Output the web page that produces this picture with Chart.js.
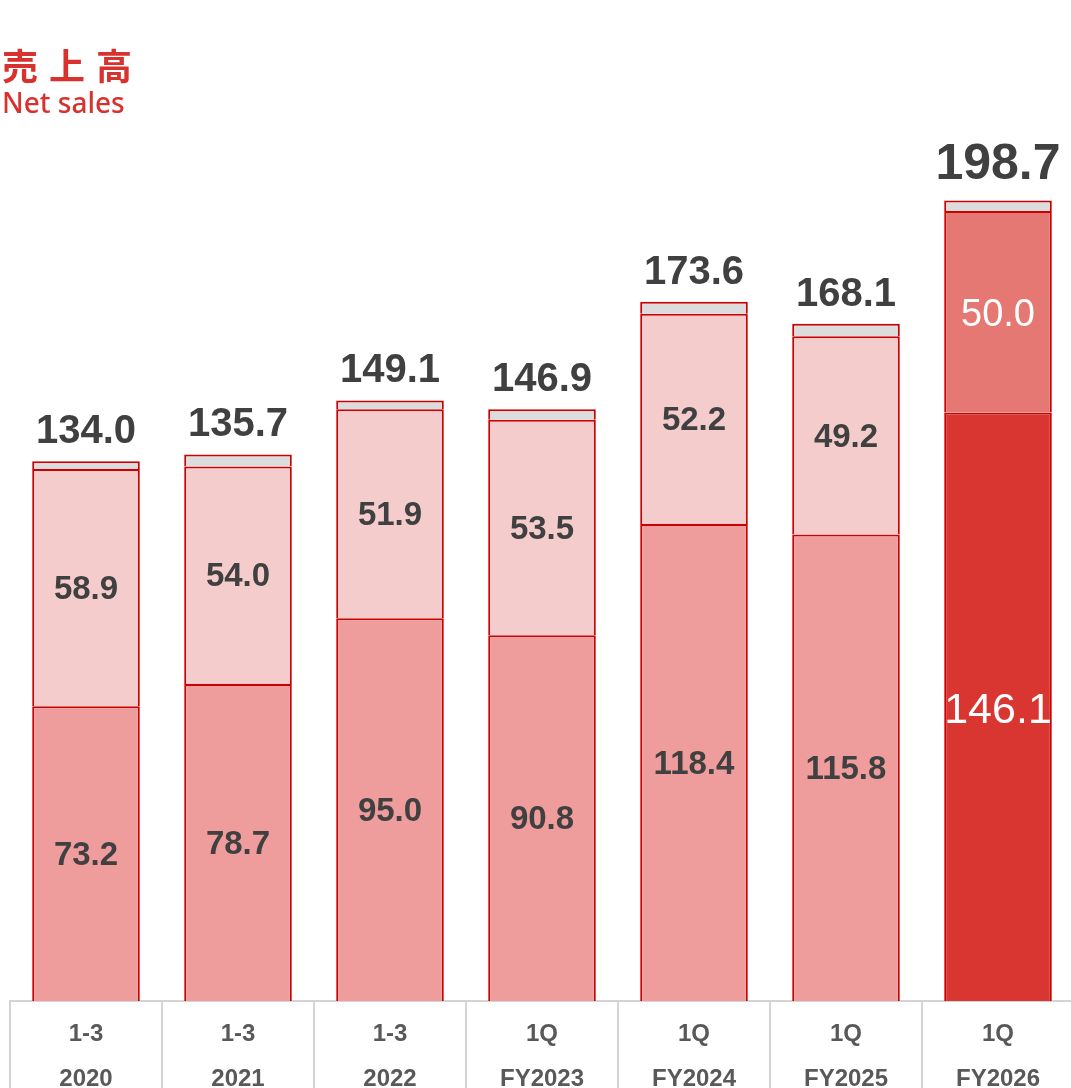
<!DOCTYPE html>
<html>
<head>
<meta charset="utf-8">
<script src="https://cdn.jsdelivr.net/npm/chart.js@4"></script>
<style>
  html, body { margin: 0; padding: 0; background: #fff; overflow: hidden; }
  #wrap { position: relative; width: 1080px; height: 1112px; }
  #title-jp {
    position: absolute; left: 2px; top: 46px;
    font-family: "Noto Sans CJK JP", sans-serif; font-weight: 700;
    font-size: 36px; letter-spacing: 11px; color: #d8322e; line-height: 1;
  }
  #title-en {
    position: absolute; left: 2px; top: 88px;
    font-family: "Noto Sans", sans-serif; font-size: 28px; font-weight: 500;
    color: #d8322e; line-height: 1;
  }
</style>
</head>
<body>
<div id="wrap">
  <canvas id="chart" width="1080" height="1112"></canvas>
  <div id="title-jp">売上高</div>
  <div id="title-en">Net sales</div>
</div>
<script>
const periods = [["1-3", "2020"], ["1-3", "2021"], ["1-3", "2022"], ["1Q", "FY2023"], ["1Q", "FY2024"], ["1Q", "FY2025"], ["1Q", "FY2026"]];
const bottomValues = [73.2, 78.7, 95.0, 90.8, 118.4, 115.8, 146.1];
const middleValues = [58.9, 54.0, 51.9, 53.5, 52.2, 49.2, 50.0];
const totals = [134.0, 135.7, 149.1, 146.9, 173.6, 168.1, 198.7];
// small remainder on top of each bar (grey cap)
const otherValues = totals.map((t, i) => +(t - bottomValues[i] - middleValues[i]).toFixed(1));

const lastIdx = periods.length - 1;
const bottomColors = periods.map((p, i) => i === lastIdx ? "#d93531" : "#ee9c9c");
const middleColors = periods.map((p, i) => i === lastIdx ? "#e67874" : "#f5cccc");
const edge = { top: 2, left: 2, right: 2, bottom: 0 };

// vertical separators below the baseline, between categories
const separatorPlugin = {
  id: "separators",
  afterDraw(chart) {
    const x = chart.scales.x;
    const ctx = chart.ctx;
    const n = chart.data.labels.length;
    const step = x.getPixelForValue(1) - x.getPixelForValue(0);
    ctx.save();
    ctx.strokeStyle = "#d4d4d4";
    ctx.lineWidth = 2;
    for (let i = 0; i <= n; i++) {
      const px = i < n ? x.getPixelForValue(i) - step / 2 : x.getPixelForValue(n - 1) + step / 2;
      ctx.beginPath();
      ctx.moveTo(px, chart.chartArea.bottom);
      ctx.lineTo(px, chart.height);
      ctx.stroke();
    }
    ctx.restore();
  }
};

const labelPlugin = {
  id: "barLabels",
  afterDatasetsDraw(chart) {
    const ctx = chart.ctx;
    ctx.save();
    ctx.textAlign = "center";
    ctx.textBaseline = "middle";
    [0, 1].forEach((di) => {
      const meta = chart.getDatasetMeta(di);
      const vals = chart.data.datasets[di].data;
      meta.data.forEach((bar, i) => {
        const cy = (bar.y + bar.base) / 2;
        if (i === lastIdx) {
          ctx.fillStyle = "#ffffff";
          ctx.font = (di === 0 ? "43px" : "38px") + " 'Liberation Sans', Arial, sans-serif";
          ctx.fillText(vals[i].toFixed(1), bar.x, cy + 4);
        } else {
          ctx.fillStyle = "#404040";
          ctx.font = "bold 33px 'Liberation Sans', Arial, sans-serif";
          ctx.fillText(vals[i].toFixed(1), bar.x, cy + 2);
        }
      });
    });
    const topMeta = chart.getDatasetMeta(2);
    topMeta.data.forEach((bar, i) => {
      ctx.fillStyle = "#404040";
      if (i === lastIdx) {
        ctx.font = "bold 50px 'Liberation Sans', Arial, sans-serif";
        ctx.fillText(totals[i].toFixed(1), bar.x, bar.y - 35);
      } else {
        ctx.font = "bold 40px 'Liberation Sans', Arial, sans-serif";
        ctx.fillText(totals[i].toFixed(1), bar.x, bar.y - 29);
      }
    });
    ctx.restore();
  }
};

new Chart(document.getElementById("chart"), {
  type: "bar",
  data: {
    labels: periods,
    datasets: [
      {
        label: "bottom",
        data: bottomValues,
        backgroundColor: bottomColors,
        borderColor: "#cc0000",
        borderWidth: edge,
        borderSkipped: false,
      },
      {
        label: "middle",
        data: middleValues,
        backgroundColor: middleColors,
        borderColor: "#cc0000",
        borderWidth: edge,
        borderSkipped: false,
      },
      {
        label: "other",
        data: otherValues,
        backgroundColor: "#dcdcdc",
        borderColor: "#cc0000",
        borderWidth: edge,
        borderSkipped: false,
      },
    ],
  },
  options: {
    responsive: false,
    animation: false,
    layout: { padding: { left: 10, right: 6, top: 0, bottom: 0 } },
    plugins: {
      legend: { display: false },
      tooltip: { enabled: false },
    },
    datasets: {
      bar: { categoryPercentage: 1, barPercentage: 0.708 },
    },
    scales: {
      x: {
        stacked: true,
        grid: { display: false, drawTicks: false },
        border: { display: true, color: "#d4d4d4", width: 2 },
        ticks: {
          color: "#595959",
          font: { family: "'Liberation Sans', Arial, sans-serif", size: 24, weight: "bold", lineHeight: 1.875 },
          padding: 10.5,
          maxRotation: 0,
          autoSkip: false,
        },
      },
      y: {
        stacked: true,
        display: false,
        min: 0,
        max: 248.5,
      },
    },
  },
  plugins: [separatorPlugin, labelPlugin],
});
</script>
</body>
</html>
